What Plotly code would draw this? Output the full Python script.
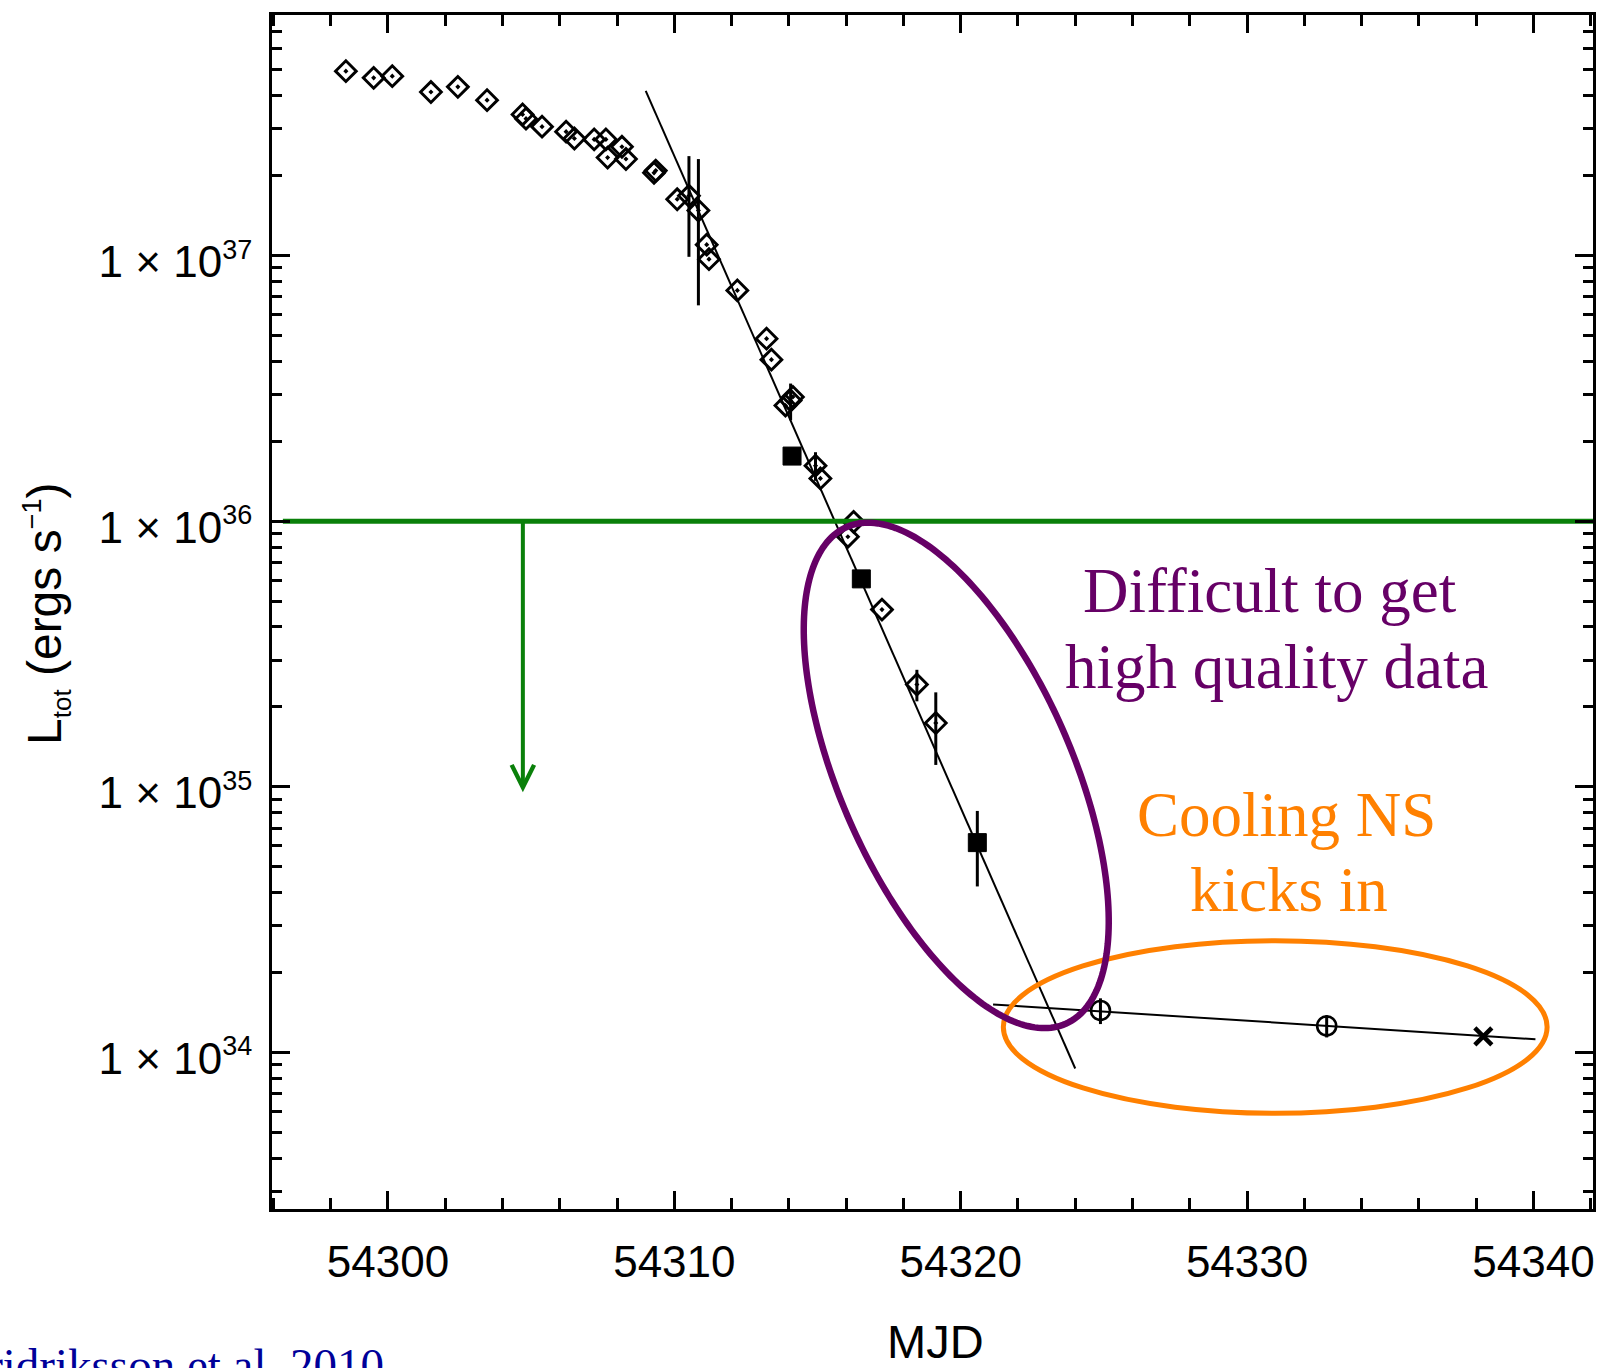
import numpy as np
import plotly.graph_objects as go

# ---------------------------------------------------------------------------
# Light curve data (MJD, total luminosity in erg/s)
# ---------------------------------------------------------------------------
# open diamonds with centre dot
mjd_diamond = [54298.53, 54299.50, 54300.15, 54301.50, 54302.44, 54303.46,
               54304.70, 54304.82, 54305.38, 54306.22, 54306.51, 54307.20,
               54307.61, 54307.67, 54308.17, 54308.31, 54309.29, 54309.35,
               54310.10, 54310.51, 54310.84, 54311.13, 54311.21, 54312.20,
               54313.22, 54313.39, 54313.88, 54314.06, 54314.14, 54314.93,
               54315.10, 54316.06, 54316.26, 54317.25, 54318.47, 54319.13]
lum_diamond = [4.95e37, 4.67e37, 4.74e37, 4.13e37, 4.32e37, 3.85e37,
               3.40e37, 3.28e37, 3.06e37, 2.93e37, 2.76e37, 2.74e37,
               2.74e37, 2.34e37, 2.57e37, 2.31e37, 2.05e37, 2.09e37,
               1.63e37, 1.68e37, 1.48e37, 1.10e37, 9.70e36, 7.40e36,
               4.87e36, 4.06e36, 2.73e36, 2.85e36, 2.94e36, 1.62e36,
               1.45e36, 8.75e35, 9.95e35, 4.65e35, 2.43e35, 1.74e35]
err_diamond = [0, 0, 0, 0, 0, 0,
               0, 0, 0, 0, 0, 0,
               0, 0, 0, 0, 0, 0,
               0, 0.69e37, 0.83e37, 0, 0, 0,
               0, 0, 0, 0.45e36, 0, 0.20e36,
               0, 0, 0, 0, 0.33e35, 0.53e35]

# filled squares
mjd_square = [54314.11, 54316.53, 54320.58]
lum_square = [1.76e36, 6.07e35, 6.17e34]
err_square = [0, 0, 1.95e34]

# open circles
mjd_circle = [54324.88, 54332.78]
lum_circle = [1.44e34, 1.26e34]
err_circle = [0.16e34, 0.12e34]

# cross
mjd_cross = [54338.25]
lum_cross = [1.15e34]

# straight-line fits (end points)
mjd_decay_fit = [54309.00, 54324.00]
lum_decay_fit = [4.17e37, 8.71e33]
mjd_cool_fit = [54321.13, 54340.07]
lum_cool_fit = [1.517e34, 1.122e34]

# luminosity threshold and the arrow below it
lum_threshold = 1e36
mjd_threshold_start = 54296.33
mjd_arrow = 54304.71
lum_arrow_tip = 9.55e34

# axes
x_range = [54295.95, 54342.08]
y_log_range = [33.411, 37.906]
y_major = [1e34, 1e35, 1e36, 1e37]
y_major_exp = ["34", "35", "36", "37"]
y_major_text = [f"1 × 10<sup><span style='font-size:27px'>{e}</span></sup>"
                for e in y_major_exp]

# ---------------------------------------------------------------------------
# Figure geometry (pixels)
# ---------------------------------------------------------------------------
W, H = 1608, 1368
ML, MR, MT, MB = 272, 12, 12, 159
PW, PH = W - ML - MR, H - MT - MB


def px(x):
    return (x - ML) / PW


def py(y):
    return (H - MB - y) / PH


GREEN = "#0a800a"
PURPLE = "#660066"
ORANGE = "#ff8000"
SANS = "Liberation Sans, Arial, Helvetica, sans-serif"
SERIF = "Liberation Serif, Times New Roman, serif"

fig = go.Figure()

# fits
fig.add_trace(go.Scatter(x=mjd_decay_fit, y=lum_decay_fit, mode="lines",
                         line=dict(color="black", width=2), hoverinfo="skip"))
fig.add_trace(go.Scatter(x=mjd_cool_fit, y=lum_cool_fit, mode="lines",
                         line=dict(color="black", width=2), hoverinfo="skip"))

# data
err_style = dict(type="data", symmetric=True, thickness=3, width=0, color="black")
fig.add_trace(go.Scatter(
    x=mjd_diamond, y=lum_diamond, mode="markers",
    marker=dict(symbol="diamond-open-dot", size=16, color="black",
                line=dict(width=2.9, color="black")),
    error_y=dict(array=err_diamond, **err_style)))
fig.add_trace(go.Scatter(
    x=mjd_square, y=lum_square, mode="markers",
    marker=dict(symbol="square", size=18, color="black",
                line=dict(width=1, color="black")),
    error_y=dict(array=err_square, **err_style)))
fig.add_trace(go.Scatter(
    x=mjd_circle, y=lum_circle, mode="markers",
    marker=dict(symbol="circle-open", size=19, color="black",
                line=dict(width=2.6, color="black")),
    error_y=dict(array=err_circle, **err_style)))
fig.add_trace(go.Scatter(
    x=mjd_cross, y=lum_cross, mode="markers",
    marker=dict(symbol="x-thin-open", size=17, color="black",
                line=dict(width=4.5, color="black"))))

# threshold line
fig.add_trace(go.Scatter(x=[mjd_threshold_start, x_range[1]],
                         y=[lum_threshold, lum_threshold], mode="lines",
                         line=dict(color=GREEN, width=5), hoverinfo="skip"))

# ---------------------------------------------------------------------------
# Ellipses
# ---------------------------------------------------------------------------
# tilted ellipse around the steep decay (pixel centre, semi-axes, angle)
cx, cy, ea, eb, theta = 957.8, 774.3, 272.1, 116.2, np.deg2rad(66.2)
t = np.linspace(0, 2 * np.pi, 241)
ex = cx + ea * np.cos(t) * np.cos(theta) - eb * np.sin(t) * np.sin(theta)
ey = cy + ea * np.cos(t) * np.sin(theta) + eb * np.sin(t) * np.cos(theta)
purple_path = "M " + " L ".join(f"{px(a):.5f},{py(b):.5f}" for a, b in zip(ex, ey)) + " Z"

shapes = [
    dict(type="circle", xref="paper", yref="paper",
         x0=px(1005), x1=px(1550), y0=py(1113), y1=py(940),
         line=dict(color=ORANGE, width=5), layer="above"),
    dict(type="path", xref="paper", yref="paper", path=purple_path,
         line=dict(color=PURPLE, width=6.5), layer="above"),
]

# ---------------------------------------------------------------------------
# Text
# ---------------------------------------------------------------------------
annotations = [
    dict(x=mjd_arrow, y=np.log10(lum_arrow_tip), xref="x", yref="y",
         ax=mjd_arrow, ay=np.log10(lum_threshold), axref="x", ayref="y",
         text="", showarrow=True, arrowhead=5, arrowsize=1.1, arrowwidth=4,
         arrowcolor=GREEN, standoff=0),
    dict(x=px(1272), y=py(589), xref="paper", yref="paper", text="Difficult to get",
         showarrow=False, font=dict(family=SERIF, size=63, color=PURPLE),
         xanchor="center", yanchor="middle"),
    dict(x=px(1279), y=py(666), xref="paper", yref="paper", text="high quality data",
         showarrow=False, font=dict(family=SERIF, size=63, color=PURPLE),
         xanchor="center", yanchor="middle"),
    dict(x=px(1289), y=py(814), xref="paper", yref="paper", text="Cooling NS",
         showarrow=False, font=dict(family=SERIF, size=63, color=ORANGE),
         xanchor="center", yanchor="middle"),
    dict(x=px(1291), y=py(889), xref="paper", yref="paper", text="kicks in",
         showarrow=False, font=dict(family=SERIF, size=63, color=ORANGE),
         xanchor="center", yanchor="middle"),
    dict(x=px(-42), y=py(1365), xref="paper", yref="paper",
         text="Fridriksson et al. 2010", showarrow=False,
         font=dict(family=SERIF, size=47, color="#000099"),
         xanchor="left", yanchor="middle"),
    dict(x=px(937), y=py(1342), xref="paper", yref="paper", text="MJD",
         showarrow=False, font=dict(family=SANS, size=47, color="black"),
         xanchor="center", yanchor="middle"),
    dict(x=px(47), y=py(613), xref="paper", yref="paper", textangle=-90,
         text="L<sub><span style='font-size:26px'>tot</span></sub> (ergs s"
              "<sup><span style='font-size:27px'>−1</span></sup>)",
         showarrow=False,
         font=dict(family=SANS, size=48, color="black"),
         xanchor="center", yanchor="middle"),
]

y_minor = [m * 10.0 ** e for e in range(33, 38) for m in range(2, 10)
           if y_log_range[0] <= np.log10(m * 10.0 ** e) <= y_log_range[1]]

fig.update_layout(
    width=W, height=H,
    margin=dict(l=ML, r=MR, t=MT, b=MB, pad=0),
    paper_bgcolor="white", plot_bgcolor="white",
    showlegend=False,
    shapes=shapes, annotations=annotations,
    xaxis=dict(range=x_range, tickmode="linear", tick0=54300, dtick=10,
               showgrid=False, zeroline=False,
               showline=True, linecolor="black", linewidth=3, mirror="ticks",
               ticks="inside", ticklen=18, tickwidth=3, tickcolor="black",
               tickformat="d", ticklabelstandoff=12,
               tickfont=dict(family=SANS, size=44, color="black"),
               minor=dict(tick0=54300, dtick=2, ticks="inside", ticklen=11,
                          tickwidth=3, tickcolor="black", showgrid=False)),
    yaxis=dict(type="log", range=y_log_range,
               tickmode="array", tickvals=y_major, ticktext=y_major_text,
               showgrid=False, zeroline=False,
               showline=True, linecolor="black", linewidth=3, mirror="ticks",
               ticks="inside", ticklen=18, tickwidth=3, tickcolor="black",
               ticklabelstandoff=8, ticklabelshift=6,
               tickfont=dict(family=SANS, size=44, color="black"),
               minor=dict(tickmode="array", tickvals=y_minor, ticks="inside",
                          ticklen=10, tickwidth=3, tickcolor="black",
                          showgrid=False)),
)

fig.write_html("out.html")
